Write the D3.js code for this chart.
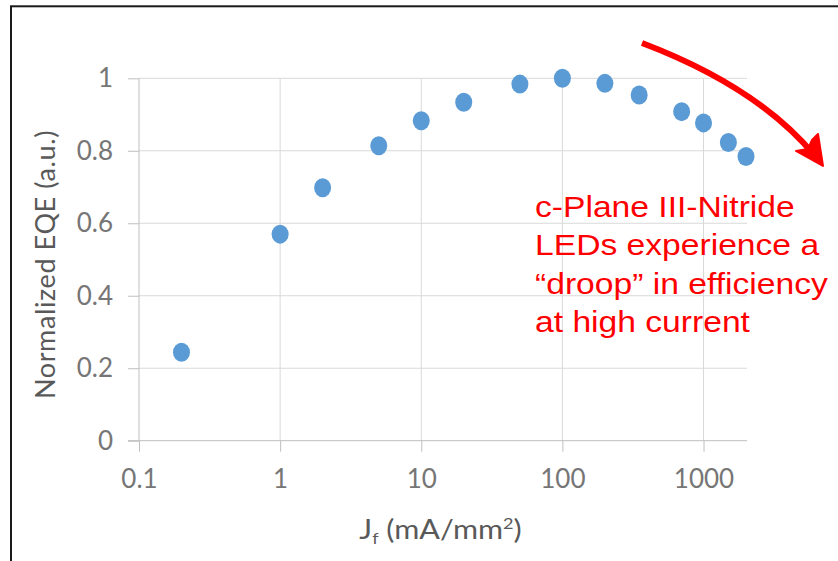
<!DOCTYPE html>
<meta charset="utf-8">
<head>
  <title>EQE droop</title>
</head>
<style>
body { margin: 0; background: #fff; }
.grid line { stroke: #d9d9d9; stroke-width: 1px; }
.axis path { display: none; }
.axis line { stroke: #bfbfbf; stroke-width: 1px; }
.axis text { font-family: Lato, "Open Sans", sans-serif; font-size: 26px; fill: #767676; }
.title { font-family: Lato, "Open Sans", sans-serif; font-size: 27px; fill: #595959; }
.note { font-family: "Liberation Sans", Arial, sans-serif; font-size: 29px; fill: #ff0000; }
</style>
<body>
<script src="https://d3js.org/d3.v7.min.js"></script>
<script>

// data
var current = [0.2, 1, 2, 5, 10, 20, 50, 100, 200, 350, 700, 1000, 1500, 2000];
var eqe = [0.244, 0.570, 0.698, 0.814, 0.883, 0.934, 0.984, 1.0, 0.986, 0.954, 0.908, 0.877, 0.823, 0.784];

var xTicks = [0.1, 1, 10, 100, 1000];
var xTickLabels = ["0.1", "1", "10", "100", "1000"];
var yTicks = [0, 0.2, 0.4, 0.6, 0.8, 1];
var yTickLabels = ["0", "0.2", "0.4", "0.6", "0.8", "1"];

var noteLines = ["c-Plane III-Nitride", "LEDs experience a", "\u201Cdroop\u201D in efficiency", "at high current"];

var W = 838, H = 561;
var plot = {left: 139, right: 746, top: 78.3, bottom: 440.7};

var svg = d3.select("body").append("svg")
    .attr("width", W)
    .attr("height", H);

// frame round the slide picture
svg.append("rect")
    .attr("x", 11).attr("y", 6.3)
    .attr("width", W + 20).attr("height", H + 20)
    .attr("fill", "none")
    .attr("stroke", "#1a1a1a")
    .attr("stroke-width", 2);

var x = d3.scaleLog().domain([0.1, 2000]).range([plot.left, plot.right]);
var y = d3.scaleLinear().domain([0, 1]).range([plot.bottom, plot.top]);

// gridlines
svg.append("g")
    .attr("class", "grid")
    .selectAll("line.h")
    .data(yTicks.slice(1))
  .enter().append("line")
    .attr("x1", plot.left).attr("x2", plot.right + 1)
    .attr("y1", function(d) { return y(d); })
    .attr("y2", function(d) { return y(d); });

svg.append("g")
    .attr("class", "grid")
    .selectAll("line.v")
    .data(xTicks.slice(1))
  .enter().append("line")
    .attr("y1", plot.top).attr("y2", plot.bottom)
    .attr("x1", function(d) { return x(d); })
    .attr("x2", function(d) { return x(d); });

// y axis
var yAxis = svg.append("g")
    .attr("class", "axis")
    .attr("transform", "translate(" + plot.left + ",0)")
    .call(d3.axisLeft(y).tickValues(yTicks)
        .tickFormat(function(d, i) { return yTickLabels[i]; })
        .tickSize(11).tickPadding(15));
yAxis.append("line")
    .attr("y1", plot.top).attr("y2", plot.bottom);

// x axis
var xAxis = svg.append("g")
    .attr("class", "axis")
    .attr("transform", "translate(0," + plot.bottom + ")")
    .call(d3.axisBottom(x).tickValues(xTicks)
        .tickFormat(function(d, i) { return xTickLabels[i]; })
        .tickSize(11).tickPadding(18));
xAxis.append("line")
    .attr("x1", plot.left - 11).attr("x2", plot.right + 1);

// axis titles
svg.append("text")
    .attr("class", "title")
    .attr("transform", "translate(55," + ((plot.top + plot.bottom) / 2 + 5) + ") rotate(-90)")
    .attr("text-anchor", "middle")
    .attr("letter-spacing", "0.6px")
    .text("Normalized EQE (a.u.)");

var xt = svg.append("text")
    .attr("class", "title")
    .attr("transform", "translate(" + ((plot.left + plot.right) / 2 - 2) + ",539) scale(1.13,1)")
    .attr("text-anchor", "middle");
xt.append("tspan").text("J");
xt.append("tspan").attr("font-size", "16px").attr("dy", 5).text("f");
xt.append("tspan").attr("dy", -5).text(" (mA/mm");
xt.append("tspan").attr("font-size", "16px").attr("dy", -10).text("2");
xt.append("tspan").attr("dy", 10).text(")");

// points
svg.append("g")
    .selectAll("ellipse")
    .data(current)
  .enter().append("ellipse")
    .attr("cx", function(d) { return x(d); })
    .attr("cy", function(d, i) { return y(eqe[i]); })
    .attr("rx", 8.5)
    .attr("ry", 9.5)
    .attr("fill", "#5b9bd5");

// red droop arrow
svg.append("path")
    .attr("d", "M642,43 Q758,87 815,156")
    .attr("fill", "none")
    .attr("stroke", "#ff0000")
    .attr("stroke-width", 6);
svg.append("path")
    .attr("d", "M823,166 L796,151 L808,149 L812,140 L818,134 Z")
    .attr("fill", "#ff0000")
    .attr("stroke", "#ff0000")
    .attr("stroke-width", 2)
    .attr("stroke-linejoin", "round");

// annotation text
var note = svg.append("g")
    .attr("transform", "translate(535,0) scale(1.16,1)");
note.selectAll("text")
    .data(noteLines)
  .enter().append("text")
    .attr("class", "note")
    .attr("x", 0)
    .attr("y", function(d, i) { return 217 + i * 38.5; })
    .text(function(d) { return d; });

</script>
</body>
